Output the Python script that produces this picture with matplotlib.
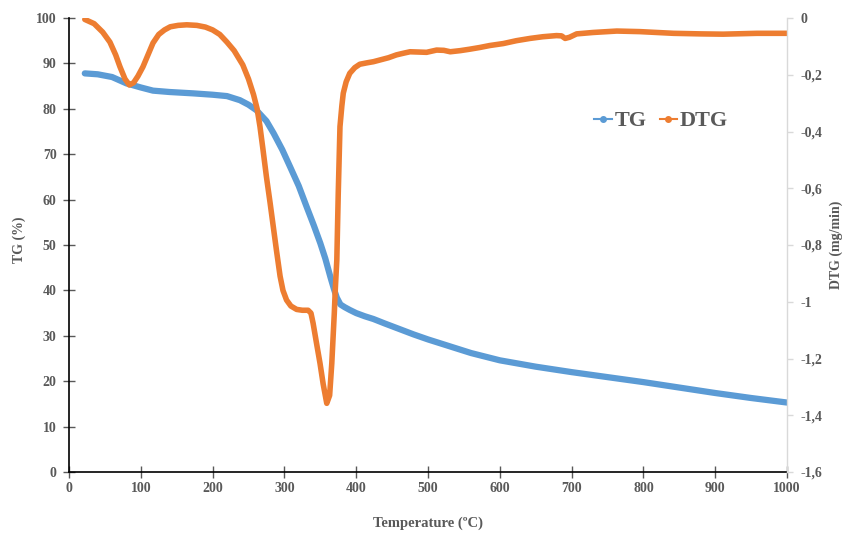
import matplotlib
matplotlib.use("Agg")
import matplotlib.pyplot as plt
from matplotlib.ticker import FuncFormatter
from matplotlib.lines import Line2D

# TG data (temperature °C, mass %)
tg_temp = [22, 40, 60, 80, 100, 117, 140, 173, 200, 220, 238, 250, 261, 275, 285, 297,
           308, 320, 331, 341, 350, 357, 364, 369, 373, 378, 384, 391, 400, 412, 424, 440,
           460, 480, 500, 530, 560, 600, 650, 700, 750, 800, 850, 900, 950, 1000]
tg_mass = [87.8, 87.6, 87.0, 85.6, 84.7, 84.0, 83.7, 83.4, 83.1, 82.8, 81.9, 80.9, 79.7, 77.3, 74.6, 71.0,
           67.2, 63.0, 58.4, 54.3, 50.4, 47.0, 43.0, 40.3, 38.4, 36.9, 36.3, 35.7, 35.0, 34.3, 33.7, 32.7,
           31.5, 30.3, 29.2, 27.7, 26.2, 24.6, 23.2, 22.0, 20.9, 19.8, 18.6, 17.4, 16.3, 15.3]

# DTG data (temperature °C, mg/min)
dtg_temp = [22, 35, 47, 57, 65, 71, 78, 84, 90, 96, 103, 110, 117, 125, 133, 141, 152, 164,
            178, 190, 200, 210, 220, 230, 242, 250, 257, 262, 266, 270, 275, 280, 284.5, 289,
            294, 298, 303, 309, 317, 325, 333, 337, 340, 345, 349.6, 354, 359, 363, 366, 369.5,
            371, 373, 375, 377.4, 380, 382, 386, 391, 398, 405, 415, 424, 433, 445, 456, 466,
            475, 487, 498, 512, 522, 531, 545, 558, 572, 586, 605, 623, 642, 660, 679, 686,
            691, 697, 707, 730, 763, 795, 842, 880, 911, 958, 1000]
dtg_val = [-0.005, -0.02, -0.05, -0.085, -0.13, -0.172, -0.215, -0.236, -0.228, -0.205, -0.172, -0.13, -0.088, -0.058, -0.042, -0.031, -0.026, -0.024,
           -0.026, -0.032, -0.042, -0.058, -0.085, -0.115, -0.165, -0.215, -0.27, -0.32, -0.383, -0.46, -0.56, -0.65, -0.735, -0.82,
           -0.91, -0.96, -0.994, -1.015, -1.027, -1.03, -1.03, -1.04, -1.076, -1.15, -1.217, -1.29, -1.358, -1.33, -1.217, -1.04,
           -0.95, -0.853, -0.618, -0.383, -0.31, -0.265, -0.225, -0.195, -0.175, -0.163, -0.158, -0.154, -0.148, -0.14, -0.13, -0.124,
           -0.119, -0.12, -0.121, -0.113, -0.114, -0.119, -0.115, -0.110, -0.104, -0.097, -0.090, -0.080, -0.072, -0.066, -0.062, -0.063,
           -0.072, -0.068, -0.056, -0.051, -0.046, -0.048, -0.054, -0.056, -0.057, -0.054, -0.054]

x_ticks = [0, 100, 200, 300, 400, 500, 600, 700, 800, 900, 1000]
tg_ticks = [0, 10, 20, 30, 40, 50, 60, 70, 80, 90, 100]
dtg_ticks = [0, -0.2, -0.4, -0.6, -0.8, -1.0, -1.2, -1.4, -1.6]

plt.rcParams['font.family'] = ['Liberation Serif', 'DejaVu Serif']
gray = '#595959'
blue = '#5B9BD5'
orange = '#ED7D31'

fig = plt.figure(figsize=(8.43, 5.33), dpi=100)
ax = fig.add_axes([69/843, 61/533, (787-69)/843, (472-18)/533])
ax2 = ax.twinx()

ax.plot(tg_temp, tg_mass, color=blue, lw=4.5, solid_capstyle='round',
        solid_joinstyle='round', label='TG')
ax2.plot(dtg_temp, dtg_val, color=orange, lw=4.0, solid_capstyle='round',
         solid_joinstyle='round', label='DTG')

ax.set_xlim(0, 1000)
ax.set_ylim(0, 100)
ax2.set_ylim(-1.6, 0)
ax.set_xticks(x_ticks)
ax.set_yticks(tg_ticks)
ax2.set_yticks(dtg_ticks)

def comma_fmt(v, pos):
    if abs(v) < 1e-9:
        return '0'
    s = ('%.1f' % v).replace('.', ',')
    if s.endswith(',0'):
        s = s[:-2]
    return s
ax2.yaxis.set_major_formatter(FuncFormatter(comma_fmt))

ax.spines['top'].set_visible(False)
ax2.spines['top'].set_visible(False)
ax.spines['right'].set_visible(False)
ax2.spines['left'].set_visible(False)
ax2.spines['bottom'].set_visible(False)
ax.spines['left'].set_color('black')
ax.spines['bottom'].set_color('black')
ax.spines['left'].set_linewidth(1.2)
ax.spines['bottom'].set_linewidth(1.2)
ax2.spines['right'].set_color('#d9d9d9')
ax2.spines['right'].set_linewidth(1.0)

ax.tick_params(axis='both', direction='inout', length=8, width=1, color=gray,
               labelsize=10, labelcolor=gray)
ax.tick_params(axis='x', pad=3)
ax.tick_params(axis='y', pad=5)
ax2.tick_params(axis='y', direction='out', length=4, width=1, color='#d9d9d9',
                labelsize=10, labelcolor=gray, pad=6)
for lab in ax.get_xticklabels() + ax.get_yticklabels() + ax2.get_yticklabels():
    lab.set_fontweight('bold')

fig.text(428/843, (533-523)/533, 'Temperature (ºC)', fontsize=10.5, fontweight='bold',
         color=gray, ha='center', va='center')
fig.text(19/843, (533-240)/533, 'TG (%)', fontsize=10, fontweight='bold',
         color=gray, ha='center', va='center', rotation=90)
fig.text(836/843, (533-245)/533, 'DTG (mg/min)', fontsize=10, fontweight='bold',
         color=gray, ha='center', va='center', rotation=90)

h1 = Line2D([], [], color=blue, lw=1.5, marker='o', markersize=4)
h2 = Line2D([], [], color=orange, lw=1.5, marker='o', markersize=4)
leg = fig.legend([h1, h2], ['TG', 'DTG'], loc='center left',
                 bbox_to_anchor=(592/843, (533-121)/533), ncol=2, frameon=False,
                 handlelength=0.8, handletextpad=0.1, columnspacing=0.6,
                 borderpad=0.1, borderaxespad=0,
                 prop={'family': 'Liberation Serif', 'weight': 'bold', 'size': 16})
for t in leg.get_texts():
    t.set_color(gray)

fig.savefig('out.png', dpi=100)
